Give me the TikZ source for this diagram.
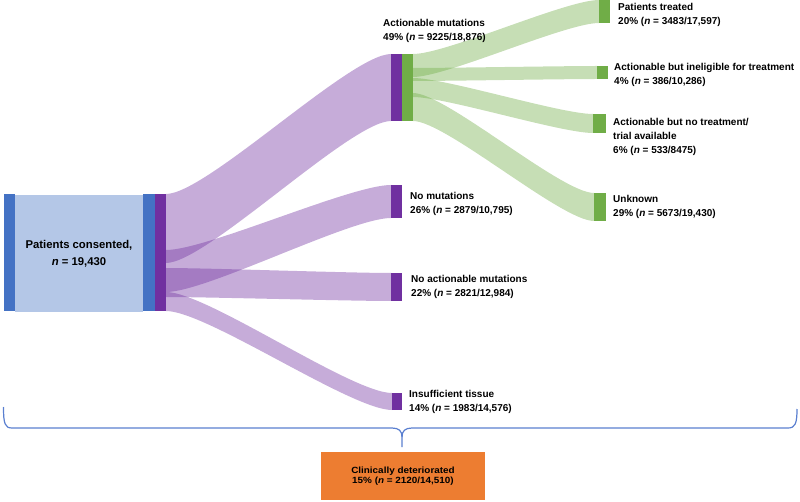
\documentclass[tikz,border=0pt]{standalone}
\usepackage{fontspec}
\setmainfont{Liberation Sans}
\usetikzlibrary{calc}
\definecolor{cblue}{HTML}{4472C4}
\definecolor{clight}{HTML}{B4C7E7}
\definecolor{cpurple}{HTML}{7030A0}
\definecolor{cgreen}{HTML}{70AD47}
\definecolor{corange}{HTML}{ED7D31}
\definecolor{cbrace}{HTML}{5A7FD0}
\pgfdeclarelayer{bg}
\pgfsetlayers{bg,main}
% #1 style, #2 source node, #3/#4 top/bottom offsets at source, #5 target node, #6/#7 offsets at target
\newcommand\ribbon[7]{%
  \fill[#1] let \p1=(#2.north east), \p2=(#5.north west) in
    (\x1,\y1-#3pt) .. controls ({0.82*\x1+0.18*\x2},\y1-#3pt) and ({0.18*\x1+0.82*\x2},\y2-#6pt) .. (\x2,\y2-#6pt)
    -- (\x2,\y2-#7pt) .. controls ({0.18*\x1+0.82*\x2},\y2-#7pt) and ({0.82*\x1+0.18*\x2},\y1-#4pt) .. (\x1,\y1-#4pt) -- cycle;}
\begin{document}
\begin{tikzpicture}[x=1pt,y=-1pt,
  bar/.style={rectangle, inner sep=0pt, outer sep=0pt, draw=none},
  pflow/.style={fill=cpurple, fill opacity=0.4},
  gflow/.style={fill=cgreen, fill opacity=0.4},
  lbl/.style={anchor=north west, inner sep=0pt, align=left, font=\fontsize{10}{14}\selectfont\bfseries}]
\useasboundingbox (0,0) rectangle (800,502);

% left block
\node[bar, fill=cblue, minimum width=11pt, minimum height=117pt] (bL) at (9.5,252.5) {};
\node[bar, fill=clight, minimum width=128pt, minimum height=117pt, align=center,
      font=\fontsize{11.3}{17}\selectfont\bfseries] (cons) at (79,253.5) {Patients consented,\\\textit{n} = 19,430};
\node[bar, fill=cblue, minimum width=12pt, minimum height=117pt] (bR) at (149,252.5) {};
\node[bar, fill=cpurple, minimum width=11pt, minimum height=117pt] (pL) at (160.5,252.5) {};

% purple targets
\node[bar, fill=cpurple, minimum width=11pt, minimum height=67pt] (pA) at (396.5,87.5) {};
\node[bar, fill=cgreen, minimum width=11pt, minimum height=67pt] (gA) at (407.5,87.5) {};
\node[bar, fill=cpurple, minimum width=11pt, minimum height=33pt] (pNM) at (396.5,201.5) {};
\node[bar, fill=cpurple, minimum width=11pt, minimum height=28pt] (pNA) at (396.5,287) {};
\node[bar, fill=cpurple, minimum width=10pt, minimum height=17pt] (pIT) at (397,401.5) {};

% green targets
\node[bar, fill=cgreen, minimum width=11pt, minimum height=23pt] (gT) at (604.5,11.5) {};
\node[bar, fill=cgreen, minimum width=11pt, minimum height=13pt] (gI) at (602.5,72.5) {};
\node[bar, fill=cgreen, minimum width=13pt, minimum height=19pt] (gN) at (599.5,123.5) {};
\node[bar, fill=cgreen, minimum width=12pt, minimum height=28pt] (gU) at (600,207) {};

% ribbons
\begin{pgfonlayer}{bg}
\ribbon{pflow}{pL}{0}{69}{pA}{0}{67}
\ribbon{pflow}{pL}{56}{98}{pNM}{0}{33}
\ribbon{pflow}{pL}{74}{103}{pNA}{0}{28}
\ribbon{pflow}{pL}{98}{117}{pIT}{0}{17}
\ribbon{gflow}{gA}{0}{23}{gT}{0}{23}
\ribbon{gflow}{gA}{14}{27}{gI}{0}{13}
\ribbon{gflow}{gA}{24}{43}{gN}{0}{19}
\ribbon{gflow}{gA}{39}{67}{gU}{0}{28}
\end{pgfonlayer}

% labels
\node[lbl] (tA) at (383,19) {Actionable mutations\\49\% (\textit{n} = 9225/18,876)};
\node[lbl] (tNM) at (410,192) {No mutations\\26\% (\textit{n} = 2879/10,795)};
\node[lbl] (tNA) at (411,275) {No actionable mutations\\22\% (\textit{n} = 2821/12,984)};
\node[lbl] (tIT) at (409,390) {Insufficient tissue\\14\% (\textit{n} = 1983/14,576)};
\node[lbl] (tT) at (618,3) {Patients treated\\20\% (\textit{n} = 3483/17,597)};
\node[lbl] (tI) at (614,63) {Actionable but ineligible for treatment\\4\% (\textit{n} = 386/10,286)};
\node[lbl] (tN) at (613,118) {Actionable but no treatment/\\trial available\\6\% (\textit{n} = 533/8475)};
\node[lbl] (tU) at (613,195) {Unknown\\29\% (\textit{n} = 5673/19,430)};

% brace
\draw[cbrace, line width=1.2pt]
  (3.5,407) .. controls (3.5,424) and (5,428) .. (12,428) -- (392,428)
  .. controls (399,428) and (402,431) .. (402,437) -- (402,447);
\draw[cbrace, line width=1.2pt]
  (797,409) .. controls (797,424) and (795,428) .. (788,428) -- (412,428)
  .. controls (405,428) and (402,431) .. (402,437);

% orange box
\node[bar, fill=corange, minimum width=164pt, minimum height=48pt, align=center,
      font=\fontsize{9}{10.5}\selectfont\bfseries\addfontfeature{FakeStretch=1.1}] (cd) at (403,476)
  {Clinically deteriorated\\15\% (\textit{n} = 2120/14,510)};
\end{tikzpicture}
\end{document}
